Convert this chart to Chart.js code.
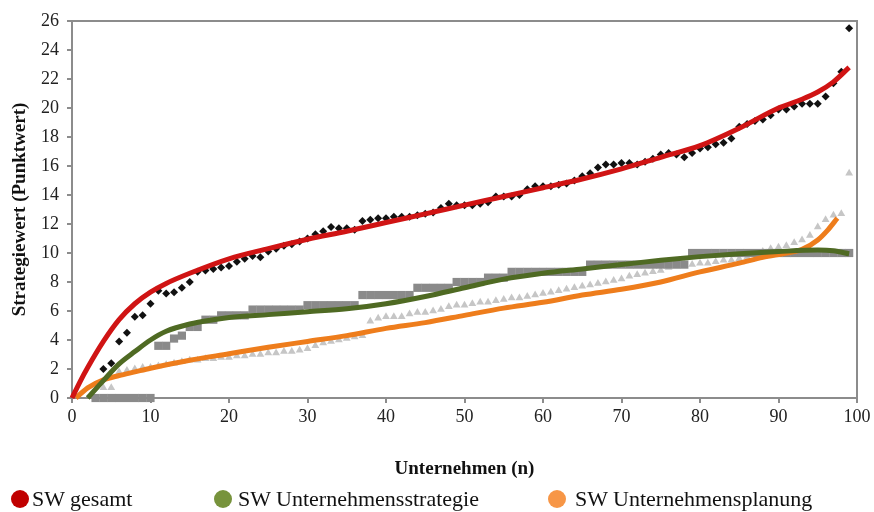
<!DOCTYPE html>
<html><head><meta charset="utf-8">
<script src="https://cdn.jsdelivr.net/npm/chart.js@4"></script>
<style>
html,body{margin:0;padding:0;background:#fff;}
#wrap{position:relative;width:874px;height:512px;overflow:hidden;}
#legend{position:absolute;left:0;top:0;width:874px;height:512px;pointer-events:none;font-family:"Liberation Serif","Times New Roman",serif;font-size:22px;color:#111;}
.dot{position:absolute;width:18px;height:18px;border-radius:50%;top:490px;}
.lbl{position:absolute;top:487px;line-height:24px;white-space:nowrap;}
</style></head>
<body><div id="wrap"><canvas id="c" width="874" height="512"></canvas><div id="legend"></div></div>
<script>
// Companies (n)
const companies = [1,2,3,4,5,6,7,8,9,10,11,12,13,14,15,16,17,18,19,20,21,22,23,24,25,26,27,28,29,30,31,32,33,34,35,36,37,38,39,40,41,42,43,44,45,46,47,48,49,50,51,52,53,54,55,56,57,58,59,60,61,62,63,64,65,66,67,68,69,70,71,72,73,74,75,76,77,78,79,80,81,82,83,84,85,86,87,88,89,90,91,92,93,94,95,96,97,98,99];

// Observed values (sorted), SW gesamt
const swGesamt = [null,null,null,2.0,2.4,3.9,4.5,5.6,5.7,6.5,
  7.4,7.2,7.3,7.6,8.0,8.7,8.8,8.9,9.0,9.1,
  9.4,9.6,9.8,9.7,10.1,10.3,10.5,10.6,10.8,11.0,
  11.3,11.5,11.8,11.7,11.7,11.6,12.2,12.3,12.4,12.4,
  12.5,12.5,12.5,12.6,12.7,12.8,13.1,13.4,13.3,13.3,
  13.3,13.4,13.5,13.9,13.9,13.9,14.0,14.4,14.6,14.6,
  14.6,14.7,14.8,15.0,15.3,15.5,15.9,16.1,16.1,16.2,
  16.2,16.1,16.3,16.5,16.8,16.9,16.8,16.6,16.9,17.2,
  17.3,17.5,17.6,17.9,18.7,18.9,19.1,19.2,19.5,19.9,
  19.9,20.1,20.3,20.3,20.3,20.8,21.7,22.5,25.5];

// Observed values, SW Unternehmensstrategie
const swStrategie = [null,null,0,0,0,0,0,0,0,0,
  3.6,3.6,4.1,4.3,4.9,4.9,5.4,5.4,5.7,5.7,
  5.7,5.7,6.1,6.1,6.1,6.1,6.1,6.1,6.1,6.4,
  6.4,6.4,6.4,6.4,6.4,6.4,7.1,7.1,7.1,7.1,
  7.1,7.1,7.1,7.6,7.6,7.6,7.6,7.6,8.0,8.0,
  8.0,8.0,8.3,8.3,8.3,8.7,8.7,8.7,8.7,8.7,
  8.7,8.7,8.7,8.7,8.7,9.2,9.2,9.2,9.2,9.2,
  9.2,9.2,9.2,9.2,9.2,9.2,9.2,9.2,10.0,10.0,
  10.0,10.0,10.0,10.0,10.0,10.0,10.0,10.0,10.0,10.0,
  10.0,10.0,10.0,10.0,10.0,10.0,10.0,10.0,10.0];

// Observed values, SW Unternehmensplanung
const swPlanung = [null,null,null,0.7,0.7,1.8,1.9,2.0,2.1,2.1,
  2.2,2.3,2.4,2.5,2.6,2.6,2.7,2.7,2.8,2.8,
  2.9,2.9,3.0,3.0,3.1,3.1,3.2,3.2,3.3,3.4,
  3.6,3.8,3.9,4.0,4.1,4.2,4.3,5.3,5.5,5.6,
  5.6,5.6,5.8,5.9,5.9,6.0,6.1,6.3,6.4,6.4,
  6.5,6.6,6.6,6.7,6.8,6.9,6.9,7.0,7.1,7.2,
  7.3,7.4,7.5,7.6,7.7,7.8,7.9,8.0,8.1,8.2,
  8.4,8.5,8.6,8.7,8.8,9.0,9.1,9.2,9.2,9.3,
  9.3,9.4,9.5,9.5,9.6,9.7,9.9,10.1,10.3,10.4,
  10.5,10.7,10.9,11.2,11.8,12.3,12.6,12.7,15.5];

// Trend curves
const fitGesamtN = [0,1,2,4,6,8,10,12,15,20,25,30,35,40,45,50,55,60,65,70,75,80,85,90,93,95,97,99];
const fitGesamtV = [0,1.1,2.1,3.9,5.4,6.5,7.3,7.9,8.6,9.6,10.3,10.95,11.5,12.1,12.7,13.3,13.9,14.5,15.1,15.8,16.6,17.4,18.6,20.0,20.6,21.1,21.8,22.8];
const fitStrategieN = [2,4,6,8,10,12,15,18,20,25,30,35,40,45,50,55,60,65,70,75,80,85,90,95,97,99];
const fitStrategieV = [0,1.2,2.35,3.2,4.0,4.6,5.1,5.4,5.55,5.75,5.95,6.15,6.5,7.0,7.6,8.2,8.6,8.9,9.2,9.5,9.75,9.95,10.1,10.2,10.15,9.95];
const fitPlanungN = [0.5,2,4,6,8,10,15,20,25,30,35,40,45,50,55,60,65,70,75,80,85,88,91,93,95,96.3,97.5];
const fitPlanungV = [0,0.7,1.25,1.55,1.8,2.05,2.6,3.05,3.5,3.9,4.3,4.8,5.2,5.7,6.2,6.6,7.1,7.5,8.0,8.7,9.3,9.7,10.0,10.25,10.9,11.6,12.4];

const xTicks = [0,10,20,30,40,50,60,70,80,90,100];
const yTicks = [0,2,4,6,8,10,12,14,16,18,20,22,24,26];

const legendNames = ['SW gesamt','SW Unternehmensstrategie','SW Unternehmensplanung'];
const legendColors = ['#c00000','#77933c','#f79646'];

function pts(xs, ys){ const out=[]; xs.forEach((x,i)=>{ if(ys[i]!==null) out.push({x:x,y:ys[i]}); }); return out; }

const serif = '"Liberation Serif","Times New Roman",serif';
const axisGrey = '#8c8c8c';

const frame = {
  id:'frame',
  beforeDatasetsDraw(chart){
    const {ctx, chartArea:a} = chart;
    ctx.save(); ctx.strokeStyle=axisGrey; ctx.lineWidth=2;
    ctx.strokeRect(a.left, a.top, a.right-a.left, a.bottom-a.top);
    ctx.restore();
  }
};

new Chart(document.getElementById('c'), {
  type:'scatter',
  data:{ datasets:[
    {type:'line', label:'Trend SW gesamt', data:pts(fitGesamtN,fitGesamtV), borderColor:'#d01414', borderWidth:5, pointRadius:0, cubicInterpolationMode:'monotone', fill:false, order:1, clip:false},
    {type:'line', label:'Trend SW Unternehmensstrategie', data:pts(fitStrategieN,fitStrategieV), borderColor:'#4f6a23', borderWidth:5, pointRadius:0, cubicInterpolationMode:'monotone', fill:false, order:2, clip:false},
    {type:'line', label:'Trend SW Unternehmensplanung', data:pts(fitPlanungN,fitPlanungV), borderColor:'#ee7d1c', borderWidth:5, pointRadius:0, cubicInterpolationMode:'monotone', fill:false, order:3, clip:false},
    {label:'SW gesamt', data:pts(companies,swGesamt), pointStyle:'rectRot', pointRadius:4, backgroundColor:'#111', borderColor:'#111', borderWidth:0, order:4, clip:false},
    {label:'SW Unternehmensstrategie', data:pts(companies,swStrategie), pointStyle:'rect', pointRadius:5.8, backgroundColor:'#8a8a8a', borderColor:'#8a8a8a', borderWidth:0, order:5, clip:false},
    {label:'SW Unternehmensplanung', data:pts(companies,swPlanung), pointStyle:'triangle', pointRadius:4.5, backgroundColor:'#c6c6c6', borderColor:'#c6c6c6', borderWidth:0, order:6, clip:false}
  ]},
  options:{
    responsive:false, animation:false, devicePixelRatio:1,
    layout:{padding:{top:21,right:17,left:0,bottom:0}},
    plugins:{legend:{display:false}, tooltip:{enabled:false}},
    scales:{
      x:{type:'linear', min:0, max:100,
        afterFit(s){ s.height = 114; },
        afterBuildTicks(s){ s.ticks = xTicks.map(v=>({value:v})); },
        border:{color:axisGrey, width:2},
        grid:{display:true, drawOnChartArea:false, drawTicks:true, tickLength:5, color:axisGrey, lineWidth:2},
        ticks:{font:{family:serif, size:18}, color:'#222', padding:3, maxRotation:0},
        title:{display:true, text:'Unternehmen (n)', font:{family:serif, size:19, weight:'bold'}, color:'#111', padding:{top:0,bottom:32}}
      },
      y:{type:'linear', min:0, max:26,
        afterFit(s){ s.width = 72; },
        afterBuildTicks(s){ s.ticks = yTicks.map(v=>({value:v})); },
        border:{color:axisGrey, width:2},
        grid:{display:true, drawOnChartArea:false, drawTicks:true, tickLength:5, color:axisGrey, lineWidth:2},
        ticks:{font:{family:serif, size:18}, color:'#222', padding:8},
        title:{display:true, text:'Strategiewert (Punktwert)', font:{family:serif, size:19, weight:'bold'}, color:'#111', padding:{top:9,bottom:0}}
      }
    }
  },
  plugins:[frame]
});

// Legend below the chart
const lg = document.getElementById('legend');
const dotX = [11,214,548];
const txtX = [32,238,575];
legendNames.forEach((name,i)=>{
  const d=document.createElement('span'); d.className='dot'; d.style.left=dotX[i]+'px'; d.style.background=legendColors[i]; lg.appendChild(d);
  const t=document.createElement('span'); t.className='lbl'; t.style.left=txtX[i]+'px'; t.textContent=name; lg.appendChild(t);
});
</script>
</body></html>
